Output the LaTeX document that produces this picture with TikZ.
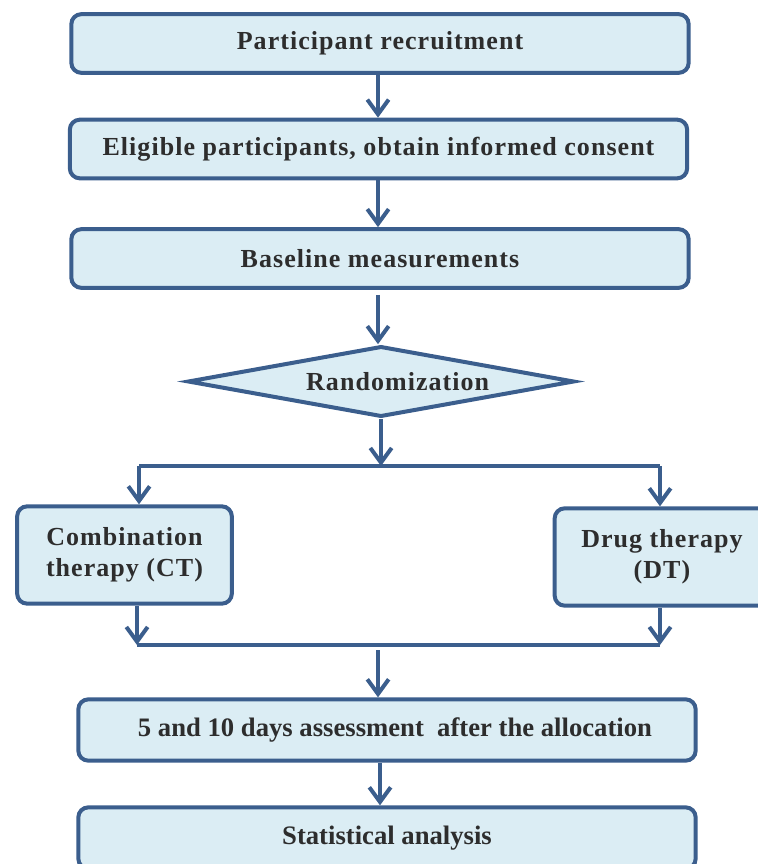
\documentclass[tikz,border=0pt]{standalone}
\usepackage{fontspec}
\setmainfont{Liberation Serif}[LetterSpace=4]
\newfontfamily\plainserif{Liberation Serif}
\usetikzlibrary{arrows.meta,shapes.geometric,calc,positioning}
\definecolor{stageColor}{RGB}{219,237,244}
\definecolor{edgeColor}{RGB}{59,94,141}
\definecolor{textColor}{RGB}{45,45,45}
\tikzset{stage/.style={draw=edgeColor, fill=stageColor, line width=3pt, rounded corners=7.5pt, align=center, text=textColor, font=\fontsize{19.5}{23.5}\selectfont\bfseries, inner sep=0pt}}
\tikzset{wide/.style={stage, minimum width=463pt, minimum height=44pt}}
\tikzset{tight/.style={wide, minimum height=46pt, font=\plainserif\fontsize{20}{24}\selectfont\bfseries}}
\tikzset{arm/.style={stage, minimum width=161pt, minimum height=73pt}}
\tikzset{decision/.style={stage, diamond, rounded corners=0pt, shape aspect=5.3, minimum width=290pt, minimum height=53pt}}
\tikzstyle{arrow} = [draw=edgeColor, line width=3.2pt, -{Straight Barb[length=11pt,width=16pt,line width=3pt]}]
\tikzstyle{bar} = [draw=edgeColor, line width=3pt]

\begin{document}
\begin{tikzpicture}[x=0.75pt, y=-0.75pt]
	\useasboundingbox (0,0) rectangle (757,864);
	% Nodes
		\node (recruit) [wide] at (380,43.5) {Participant recruitment};
		\node (consent) [wide] at (378.5,149) {Eligible participants, obtain informed consent};
		\node (baseline) [wide] at (380,258.5) {Baseline measurements};
		\node (random) [decision] at (381,381.5) {\hspace*{25pt}Randomization};
		\node (ct) [arm] at (124.5,555) {Combination\\therapy (CT)};
		\node (dt) [arm] at (662,557) {Drug therapy\\(DT)};
		\node (assess) [tight] at (387,730) {\hspace*{12pt}5 and 10 days assessment \ after the allocation};
		\node (analysis) [tight] at (387,838) {Statistical analysis};
		\coordinate (split) at (381,466);
		\coordinate (splitL) at (139,466);
		\coordinate (splitR) at (660,466);
		\coordinate (joinL) at (137,645);
		\coordinate (joinR) at (660,645);
		\coordinate (merge) at (378,650);

		% Connectors
		\draw [bar] (splitL) -- (splitR);
		\draw [bar] (joinL) -- (joinR);
		\begin{scope}[->]
			\draw [arrow] (recruit.south -| 378,0) -- (consent.north -| 378,0);
			\draw [arrow] (consent.south -| 378,0) -- (baseline.north -| 378,0);
			\draw [arrow] ($(baseline.south)+(-2,5)$) -- (random.north -| 378,0);
			\draw [arrow] (random.south) -- (split);
			\draw [arrow] (splitL) -- (splitL |- ct.north);
			\draw [arrow] (splitR) -- (splitR |- dt.north);
			\draw [arrow] (ct.south -| joinL) -- (joinL);
			\draw [arrow] (dt.south -| joinR) -- (joinR);
			\draw [arrow] (merge) -- (merge |- assess.north);
			\draw [arrow] (assess.south -| 380,0) -- (analysis.north -| 380,0);
	    \end{scope}
\end{tikzpicture}
\end{document}
